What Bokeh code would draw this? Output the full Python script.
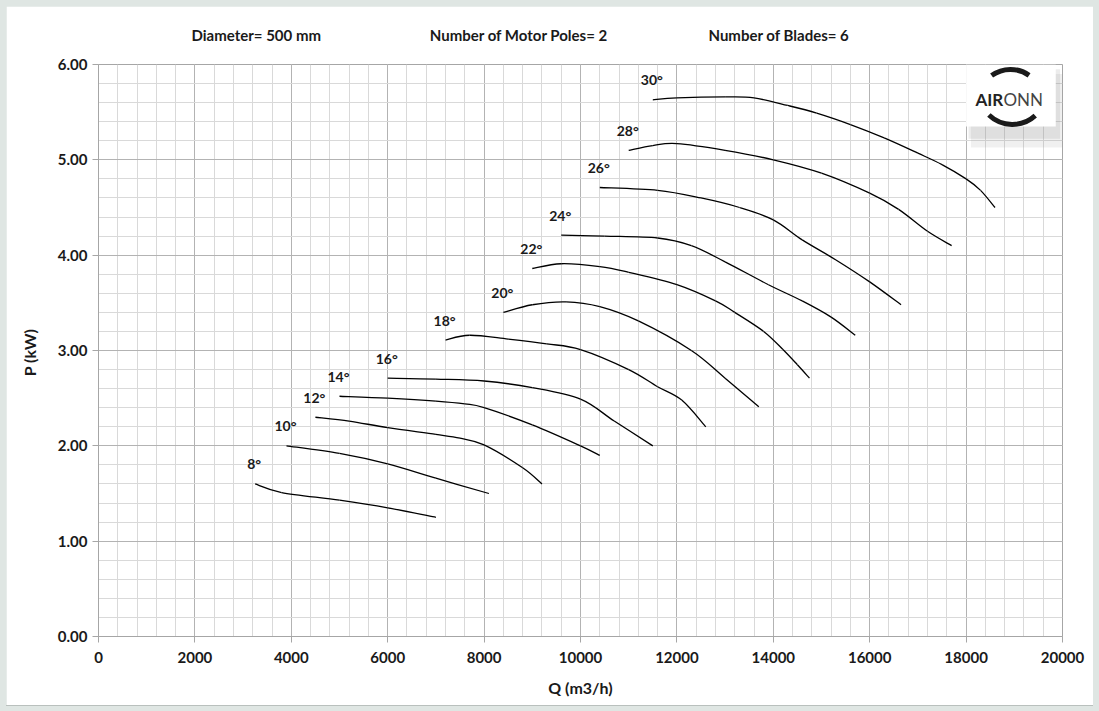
from bokeh.plotting import figure
from bokeh.models import SingleIntervalTicker, NumeralTickFormatter, Range1d, Label, BoxAnnotation, ColumnDataSource
from bokeh.core.properties import value
from bokeh.embed import file_html
from bokeh.resources import INLINE

# ---------------- data ----------------
angle_labels = ["8°", "10°", "12°", "14°", "16°", "18°", "20°", "22°", "24°", "26°", "28°", "30°"]

q_8 = [3250, 3800, 5000, 6000, 7000]
p_8 = [1.60, 1.51, 1.43, 1.35, 1.25]

q_10 = [3900, 5000, 6000, 7000, 8100]
p_10 = [2.00, 1.92, 1.81, 1.66, 1.50]

q_12 = [4500, 5200, 6000, 7000, 7500, 8000, 8800, 9200]
p_12 = [2.30, 2.26, 2.19, 2.12, 2.08, 2.01, 1.77, 1.60]

q_14 = [5000, 6000, 7000, 7600, 8000, 9000, 10000, 10400]
p_14 = [2.52, 2.50, 2.47, 2.44, 2.40, 2.22, 2.00, 1.90]

q_16 = [6000, 7000, 8000, 9000, 10000, 10700, 11500]
p_16 = [2.71, 2.70, 2.68, 2.61, 2.49, 2.26, 2.00]

q_18 = [7200, 7700, 8500, 9300, 10000, 11000, 11600, 12100, 12600]
p_18 = [3.11, 3.16, 3.12, 3.07, 3.01, 2.80, 2.62, 2.48, 2.20]

q_20 = [8400, 9000, 9700, 10400, 11200, 12300, 13000, 13700]
p_20 = [3.40, 3.48, 3.51, 3.46, 3.31, 3.00, 2.71, 2.41]

q_22 = [9000, 9600, 10400, 11000, 12000, 12800, 13200, 13800, 14200, 14500, 14750]
p_22 = [3.86, 3.91, 3.88, 3.82, 3.69, 3.52, 3.40, 3.20, 3.01, 2.85, 2.71]

q_24 = [9600, 10500, 11600, 12300, 13000, 13900, 14600, 15200, 15700]
p_24 = [4.21, 4.20, 4.18, 4.10, 3.93, 3.69, 3.52, 3.35, 3.16]

q_26 = [10400, 11600, 12500, 13300, 14000, 14600, 15300, 16000, 16650]
p_26 = [4.71, 4.68, 4.60, 4.50, 4.37, 4.16, 3.95, 3.72, 3.48]

q_28 = [11000, 11500, 12000, 13000, 14000, 15000, 16000, 16600, 17200, 17700]
p_28 = [5.10, 5.15, 5.17, 5.10, 5.00, 4.86, 4.65, 4.48, 4.25, 4.10]

q_30 = [11500, 12000, 13000, 13600, 14300, 14900, 15600, 16300, 17000, 17500, 18000, 18300, 18600]
p_30 = [5.63, 5.65, 5.66, 5.65, 5.57, 5.49, 5.37, 5.23, 5.07, 4.95, 4.80, 4.68, 4.50]

curves_q = [q_8, q_10, q_12, q_14, q_16, q_18, q_20, q_22, q_24, q_26, q_28, q_30]
curves_p = [p_8, p_10, p_12, p_14, p_16, p_18, p_20, p_22, p_24, p_26, p_28, p_30]

x_ticks_interval = 2000
y_ticks_interval = 1.0

header_labels = ["Diameter=", "Number of Motor Poles=", "Number of Blades="]
header_values = ["500 mm", "2", "6"]


def smooth_segments(xs, ys):
    """Catmull-Rom style smoothing (like Excel's smoothed line) expressed as bezier segments."""
    n = len(xs)
    out = dict(x0=[], y0=[], x1=[], y1=[], cx0=[], cy0=[], cx1=[], cy1=[])
    for i in range(n - 1):
        xp, yp = (xs[i - 1], ys[i - 1]) if i > 0 else (xs[i], ys[i])
        xn2, yn2 = (xs[i + 2], ys[i + 2]) if i + 2 < n else (xs[i + 1], ys[i + 1])
        out["x0"].append(xs[i]); out["y0"].append(ys[i])
        out["x1"].append(xs[i + 1]); out["y1"].append(ys[i + 1])
        out["cx0"].append(xs[i] + (xs[i + 1] - xp) / 6.0)
        out["cy0"].append(ys[i] + (ys[i + 1] - yp) / 6.0)
        out["cx1"].append(xs[i + 1] - (xn2 - xs[i]) / 6.0)
        out["cy1"].append(ys[i + 1] - (yn2 - ys[i]) / 6.0)
    return out


# ---------------- figure ----------------
FONT = "Lato"
EM = "\u2003"
EN = "\u2002"
header_parts = [l + " " + v for l, v in zip(header_labels, header_values)]
header_text = header_parts[0] + EM * 9 + EN + header_parts[1] + EM * 9 + header_parts[2]

p = figure(width=1087, height=699, output_backend="svg", toolbar_location=None,
           x_range=Range1d(0, 20000), y_range=Range1d(0, 6),
           min_border_left=92, min_border_right=31, min_border_top=57, min_border_bottom=69,
           title=header_text)
p.title.text_font = FONT
p.title.text_font_style = "bold"
p.title.text_font_size = "15px"
p.title.text_color = "#1a1a1a"
p.title.align = "left"
p.title.offset = 93
p.title.vertical_align = "top"
p.title.standoff = 38
p.styles = {"box-shadow": "0 0 0 1px #b9c0bd"}

p.background_fill_color = "white"
p.border_fill_color = "white"
p.outline_line_color = "#a6a6a6"
p.outline_line_width = 1

xt = SingleIntervalTicker(interval=x_ticks_interval, num_minor_ticks=5)
yt = SingleIntervalTicker(interval=y_ticks_interval, num_minor_ticks=5)
p.xaxis.ticker = xt
p.yaxis.ticker = yt
p.xgrid.ticker = xt
p.ygrid.ticker = yt
p.yaxis.formatter = NumeralTickFormatter(format="0.00")
p.xaxis.formatter = NumeralTickFormatter(format="0")

for g in (p.xgrid, p.ygrid):
    g.grid_line_color = "#b3b3b3"
    g.grid_line_width = 1
    g.minor_grid_line_color = "#d9d9d9"
    g.minor_grid_line_width = 1

for ax in (p.xaxis, p.yaxis):
    ax.axis_line_color = "#a6a6a6"
    ax.major_tick_line_color = "#a6a6a6"
    ax.major_tick_out = 6
    ax.major_tick_in = 0
    ax.minor_tick_line_color = None
    ax.major_label_text_font = FONT
    ax.major_label_text_font_style = "bold"
    ax.major_label_text_font_size = "15px"
    ax.major_label_text_color = "#1a1a1a"
    ax.axis_label_text_font = FONT
    ax.axis_label_text_font_style = "bold"
    ax.axis_label_text_font_size = "16px"
    ax.axis_label_text_color = "#1a1a1a"

p.xaxis.axis_label = "Q (m3/h)"
p.yaxis.axis_label = "P  (kW)"
p.xaxis.major_label_standoff = 9
p.yaxis.major_label_standoff = 5
p.xaxis.axis_label_standoff = 12
p.yaxis.axis_label_standoff = 16

# curves (smoothed, like the source spreadsheet)
for q, pw in zip(curves_q, curves_p):
    seg = ColumnDataSource(smooth_segments(q, pw))
    p.bezier(x0="x0", y0="y0", x1="x1", y1="y1", cx0="cx0", cy0="cy0", cx1="cx1", cy1="cy1",
             source=seg, line_color="black", line_width=1.3)

# angle labels near the start of each curve
src = ColumnDataSource(dict(x=[c[0] for c in curves_q], y=[c[0] for c in curves_p], t=angle_labels))
p.text(x="x", y="y", text="t", source=src, x_offset=-1, y_offset=-20,
       text_align="center", text_baseline="middle",
       text_font=value(FONT), text_font_style="bold", text_font_size="14px", text_color="#1a1a1a")

# logo
p.add_layout(BoxAnnotation(left=18100, right=20000, bottom=5.13, top=5.9, level="underlay",
                           fill_color="#808080", fill_alpha=0.12, line_color=None))
p.add_layout(BoxAnnotation(left=18050, right=19950, bottom=5.22, top=5.95, level="underlay",
                           fill_color="#808080", fill_alpha=0.15, line_color=None))
p.add_layout(BoxAnnotation(left=18000, right=19860, bottom=5.35, top=6.0, level="underlay",
                           fill_color="white", fill_alpha=1.0, line_color=None))
p.arc(x=[18920], y=[5.613], radius=32, radius_units="screen", start_angle=0.95, end_angle=2.2,
      line_color="#1a1a1a", line_width=5)
p.arc(x=[18960], y=[5.728], radius=34, radius_units="screen", start_angle=3.95, end_angle=5.45,
      line_color="#1a1a1a", line_width=5)
p.add_layout(Label(x=18195, y=5.63, text="AIR", text_font=FONT, text_font_style="bold",
                   text_font_size="17px", text_baseline="middle", text_color="#222222"))
p.add_layout(Label(x=18195, y=5.63, x_offset=28, text="ONN", text_font=FONT, text_font_style="normal",
                   text_font_size="17px", text_baseline="middle", text_color="#444444"))

html = file_html(p, INLINE)
html = html.replace("<body>", '<body style="background:#dfe6e3; margin:6px;">')
open("out.html", "w").write(html)
